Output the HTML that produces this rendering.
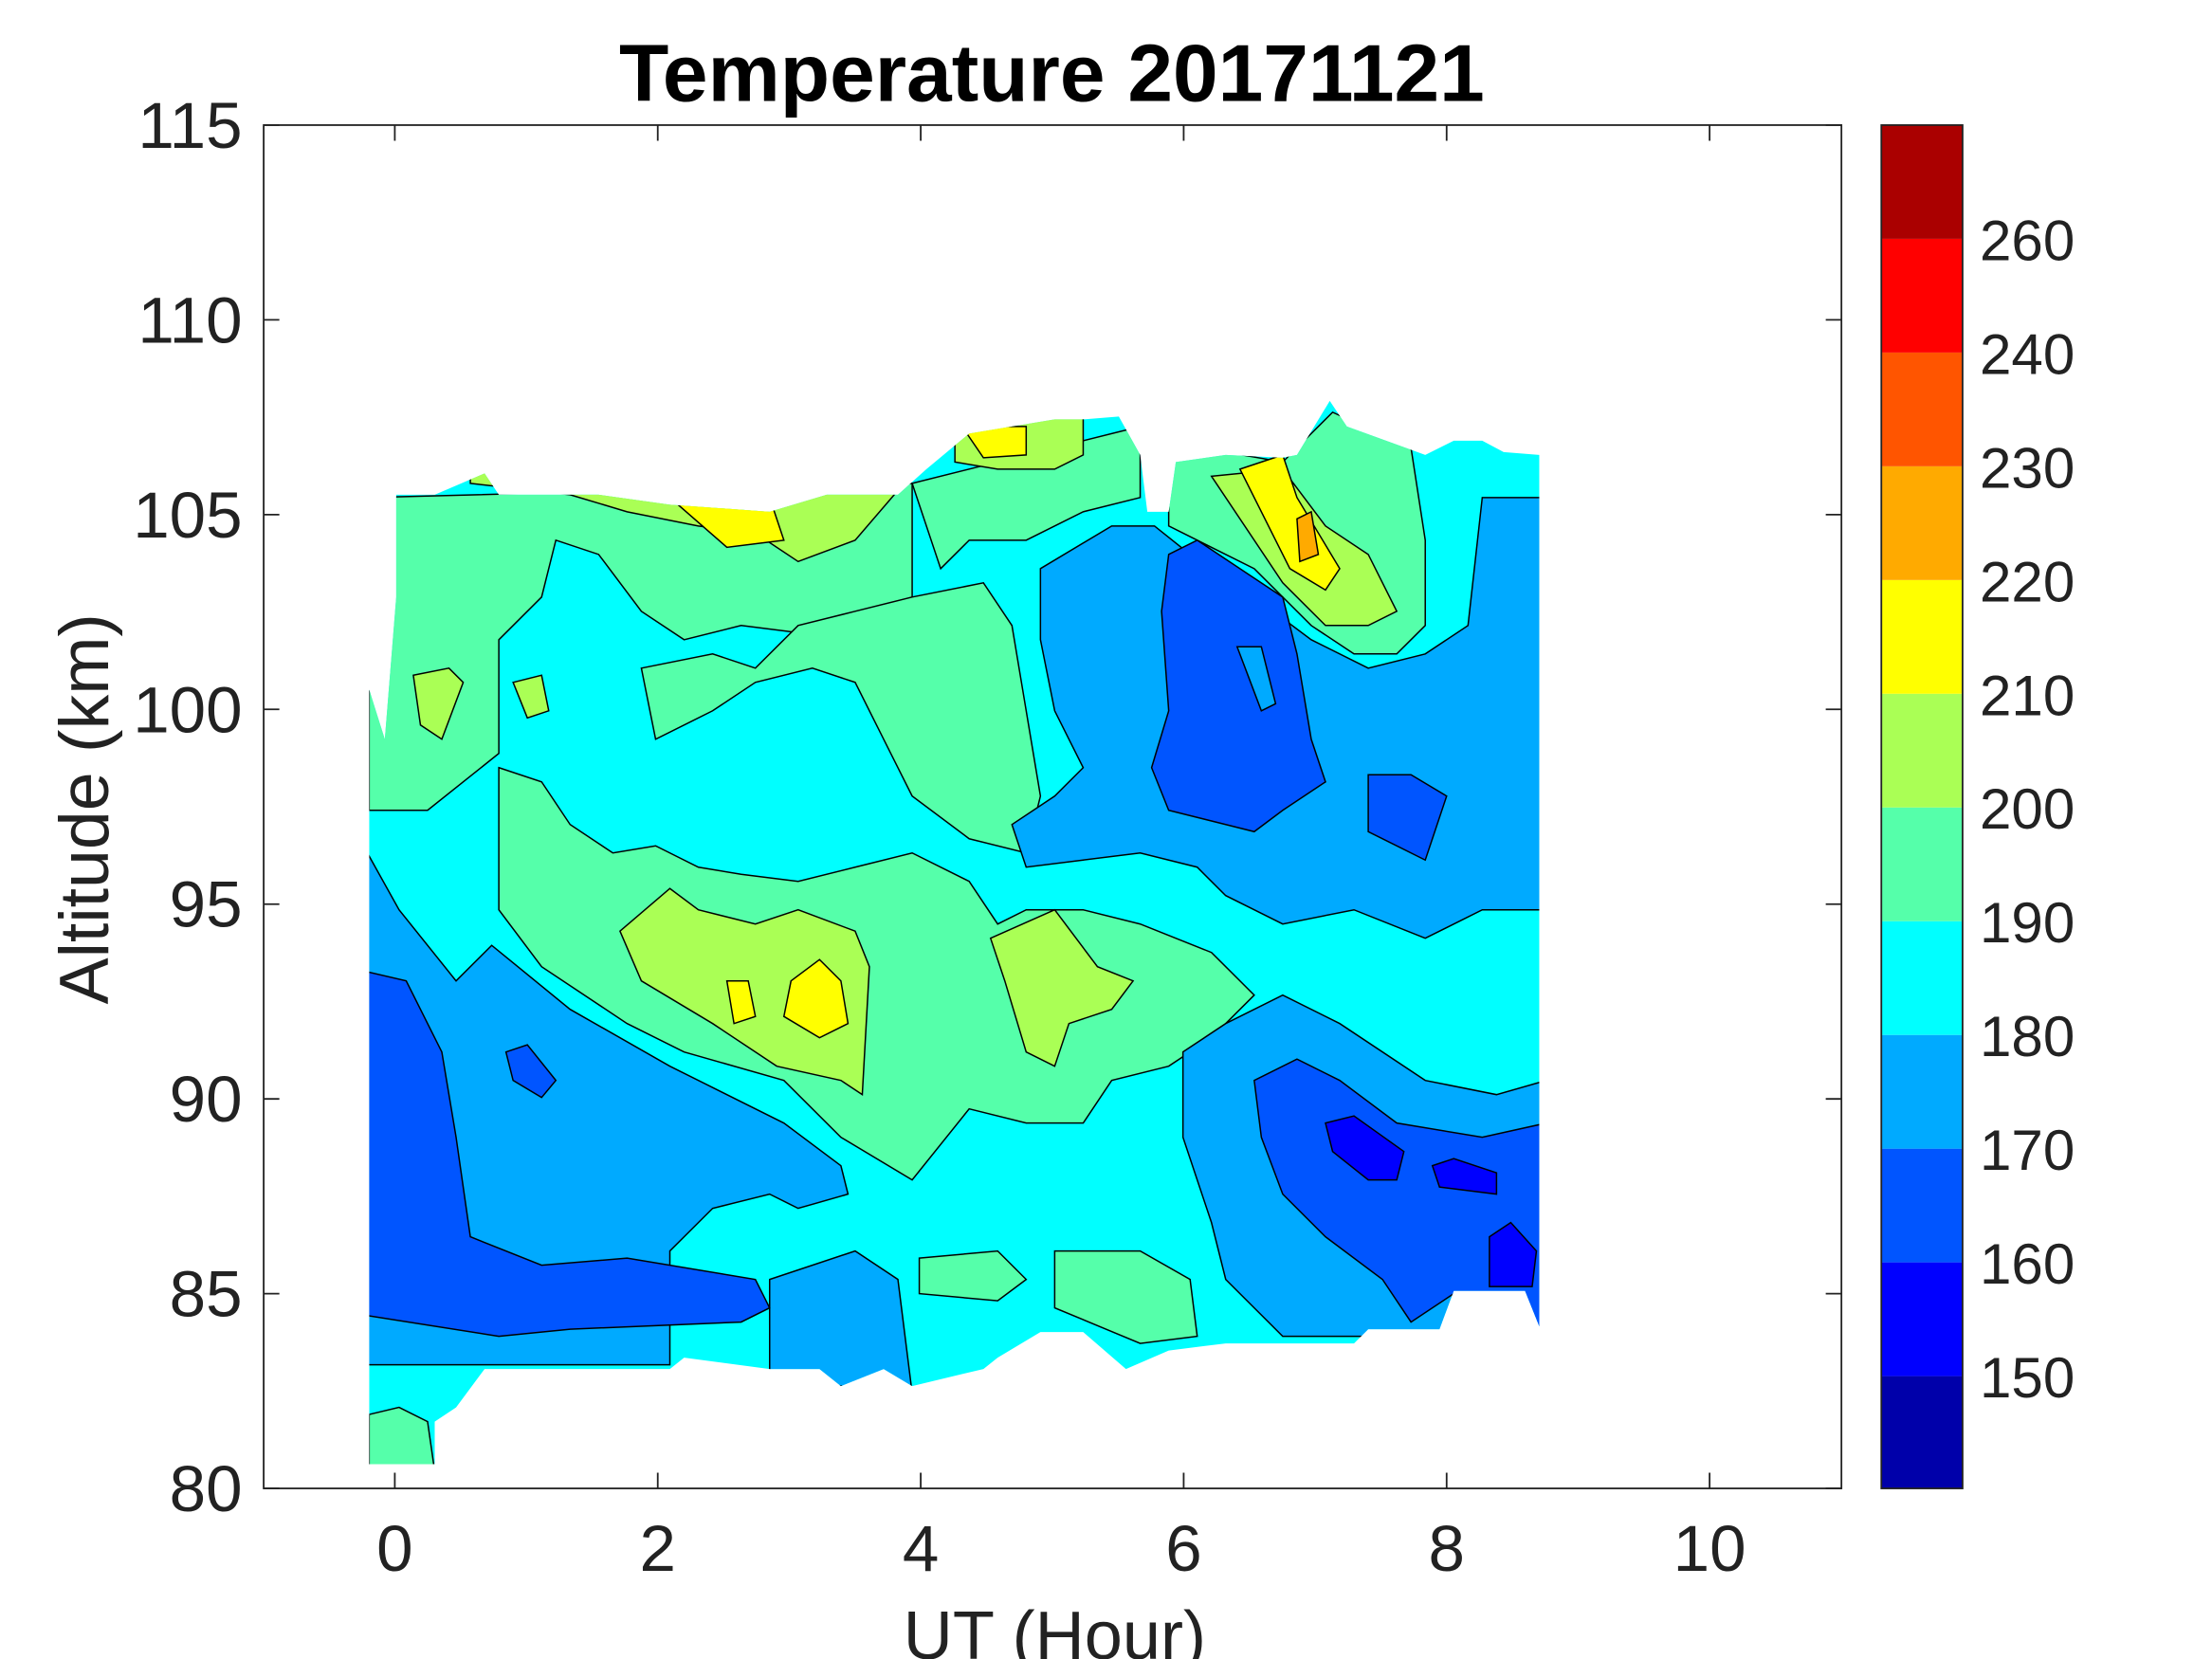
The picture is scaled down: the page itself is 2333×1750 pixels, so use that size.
<!DOCTYPE html>
<html><head><style>html,body{margin:0;padding:0;background:#fff}svg{display:block}</style></head>
<body>
<svg width="2333" height="1750" viewBox="0 0 1552 1167" preserveAspectRatio="none" xmlns="http://www.w3.org/2000/svg" font-family="Liberation Sans, sans-serif">
<defs>
<clipPath id="d"><polygon points="259,485 270,520 278,420 278,348 305,348 340,333 350,348 420,348 470,355 540,360 580,348 630,348 650,330 680,305 740,295 760,295 785,293 800,320 805,360 820,360 825,325 860,320 900,322 910,320 933,282 945,300 1000,320 1020,310 1040,310 1055,318 1080,320 1080,933 1070,908 1020,908 1010,935 960,935 950,945 860,945 820,950 790,963 760,937 730,937 700,955 690,963 640,975 620,963 590,975 575,963 540,963 480,955 470,963 340,963 320,990 305,1000 305,1030 259,1030"/></clipPath>
</defs>
<g clip-path="url(#d)" stroke="#000" stroke-width="1">
<rect x="255" y="270" width="830" height="770" fill="#00FFFF" stroke="none"/>
<polygon fill="#55FFAA" points="259,350 640,340 640,420 560,445 520,440 480,450 450,430 420,390 390,380 380,420 350,450 350,530 300,570 259,570"/>
<polygon fill="#55FFAA" points="450,470 500,460 530,470 560,440 600,430 640,420 690,410 710,440 720,500 730,560 720,600 680,590 640,560 620,520 600,480 570,470 530,480 500,500 460,520"/>
<polygon fill="#55FFAA" points="350,540 380,550 400,580 430,600 460,595 490,610 520,615 560,620 600,610 640,600 680,620 700,650 720,640 760,640 800,650 850,670 880,700 850,730 820,750 780,760 760,790 720,790 680,780 640,830 590,800 550,760 480,740 440,720 380,680 350,640"/>
<polygon fill="#55FFAA" points="640,340 800,300 800,350 760,360 720,380 680,380 660,400"/>
<polygon fill="#55FFAA" points="820,320 860,318 900,325 935,290 990,315 1000,380 1000,440 980,460 950,460 920,440 880,400 840,380 820,370"/>
<polygon fill="#55FFAA" points="645,885 700,880 720,900 700,915 645,910"/>
<polygon fill="#55FFAA" points="740,880 800,880 835,900 840,940 800,945 740,920"/>
<polygon fill="#55FFAA" points="259,995 280,990 300,1000 305,1035 259,1035"/>
<polygon fill="#00AAFF" points="255,595 280,640 320,690 345,665 400,710 470,750 550,790 590,820 595,840 560,850 540,840 500,850 480,870 470,880 470,960 255,960"/>
<polygon fill="#00AAFF" points="540,900 600,880 630,900 640,980 540,970"/>
<polygon fill="#0055FF" points="255,683 285,690 310,740 320,800 330,870 380,890 440,885 530,900 540,920 520,930 400,935 350,940 255,925"/>
<polygon fill="#0055FF" points="355,740 370,735 390,760 380,772 360,760"/>
<polygon fill="#00AAFF" points="730,400 780,370 810,370 835,390 880,420 920,450 960,470 1000,460 1030,440 1040,350 1085,350 1085,640 1040,640 1000,660 950,640 900,650 880,640 860,630 840,610 800,600 760,605 720,610 710,580 740,560 760,540 750,520 740,500 730,450"/>
<polygon fill="#00AAFF" points="830,740 860,720 900,700 940,720 1000,760 1050,770 1085,760 1085,940 960,940 900,940 880,920 860,900 850,860 830,800"/>
<polygon fill="#0055FF" points="820,390 840,380 870,400 900,420 910,460 920,520 930,550 900,570 880,585 860,580 820,570 808,540 820,500 815,430"/>
<polygon fill="#00AAFF" points="868,455 885,455 895,495 885,500"/>
<polygon fill="#0055FF" points="960,545 990,545 1015,560 1000,605 960,585"/>
<polygon fill="#0055FF" points="880,760 910,745 940,760 980,790 1040,800 1085,790 1085,940 1060,910 1020,910 990,930 970,900 930,870 900,840 885,800"/>
<polygon fill="#0000FF" points="930,790 950,785 985,810 980,830 960,830 935,810"/>
<polygon fill="#0000FF" points="1005,820 1020,815 1050,825 1050,840 1010,835"/>
<polygon fill="#0000FF" points="1045,870 1060,860 1078,880 1075,905 1045,905"/>
<polygon fill="#AAFF55" points="435,655 470,625 490,640 530,650 560,640 600,655 610,680 605,770 590,760 545,750 500,720 450,690"/>
<polygon fill="#AAFF55" points="695,660 740,640 770,680 795,690 780,710 750,720 740,750 720,740 705,690"/>
<polygon fill="#AAFF55" points="290,475 315,470 325,480 310,520 295,510"/>
<polygon fill="#AAFF55" points="360,480 380,475 385,500 370,505"/>
<polygon fill="#AAFF55" points="330,340 400,348 440,360 490,370 530,375 560,395 600,380 630,345 640,320 560,320 330,320"/>
<polygon fill="#AAFF55" points="850,335 900,330 930,370 960,390 980,430 960,440 930,440 900,410"/>
<polygon fill="#AAFF55" points="670,300 760,290 760,320 740,330 700,330 670,325"/>
<polygon fill="#FFFF00" points="510,690 525,690 530,715 515,720"/>
<polygon fill="#FFFF00" points="555,690 575,675 590,690 595,720 575,730 550,715"/>
<polygon fill="#FFFF00" points="470,350 540,350 550,380 510,385"/>
<polygon fill="#FFFF00" points="870,330 900,320 910,350 940,400 930,415 905,400"/>
<polygon fill="#FFFF00" points="675,300 720,300 720,320 690,322"/>
<polygon fill="#FFAA00" points="910,365 920,360 925,390 912,395"/>
</g>
<rect x="185" y="88" width="1107" height="959" fill="none" stroke="#222" stroke-width="1.2"/>
<g stroke="#222" stroke-width="1.2">
<path d="M277,1047v-11M461.5,1047v-11M646,1047v-11M830.5,1047v-11M1015,1047v-11M1199.5,1047v-11M277,88v11M461.5,88v11M646,88v11M830.5,88v11M1015,88v11M1199.5,88v11"/>
<path d="M185,1047h11M185,910h11M185,773h11M185,636h11M185,499h11M185,362h11M185,225h11M185,88h11M1292,1047h-11M1292,910h-11M1292,773h-11M1292,636h-11M1292,499h-11M1292,362h-11M1292,225h-11M1292,88h-11"/>
</g>
<g font-size="46" fill="#222" text-anchor="middle">
<text x="277" y="1105">0</text><text x="461.5" y="1105">2</text><text x="646" y="1105">4</text><text x="830.5" y="1105">6</text><text x="1015" y="1105">8</text><text x="1199.5" y="1105">10</text>
</g>
<g font-size="46" fill="#222" text-anchor="end">
<text x="170" y="1063">80</text><text x="170" y="926">85</text><text x="170" y="789">90</text><text x="170" y="652">95</text><text x="170" y="515">100</text><text x="170" y="378">105</text><text x="170" y="241">110</text><text x="170" y="104">115</text>
</g>
<text x="740" y="1167" font-size="48" fill="#222" text-anchor="middle">UT (Hour)</text>
<text transform="translate(76,569) rotate(-90)" font-size="49" fill="#222" text-anchor="middle">Altitude (km)</text>
<text x="738" y="71" font-size="57" font-weight="bold" fill="#000" text-anchor="middle">Temperature 20171121</text>
<g>
<rect x="1320" y="968" width="57" height="79" fill="#0000AA"/>
<rect x="1320" y="888" width="57" height="80" fill="#0000FF"/>
<rect x="1320" y="808" width="57" height="80" fill="#0055FF"/>
<rect x="1320" y="728" width="57" height="80" fill="#00AAFF"/>
<rect x="1320" y="648" width="57" height="80" fill="#00FFFF"/>
<rect x="1320" y="568" width="57" height="80" fill="#55FFAA"/>
<rect x="1320" y="488" width="57" height="80" fill="#AAFF55"/>
<rect x="1320" y="408" width="57" height="80" fill="#FFFF00"/>
<rect x="1320" y="328" width="57" height="80" fill="#FFAA00"/>
<rect x="1320" y="248" width="57" height="80" fill="#FF5500"/>
<rect x="1320" y="168" width="57" height="80" fill="#FF0000"/>
<rect x="1320" y="88" width="57" height="80" fill="#AA0000"/>
<rect x="1320" y="88" width="57" height="959" fill="none" stroke="#222" stroke-width="1.2"/>
</g>
<g font-size="40" fill="#222">
<text x="1389" y="983">150</text><text x="1389" y="903">160</text><text x="1389" y="823">170</text><text x="1389" y="743">180</text><text x="1389" y="663">190</text><text x="1389" y="583">200</text><text x="1389" y="503">210</text><text x="1389" y="423">220</text><text x="1389" y="343">230</text><text x="1389" y="263">240</text><text x="1389" y="183">260</text>
</g>
</svg>
</body></html>
